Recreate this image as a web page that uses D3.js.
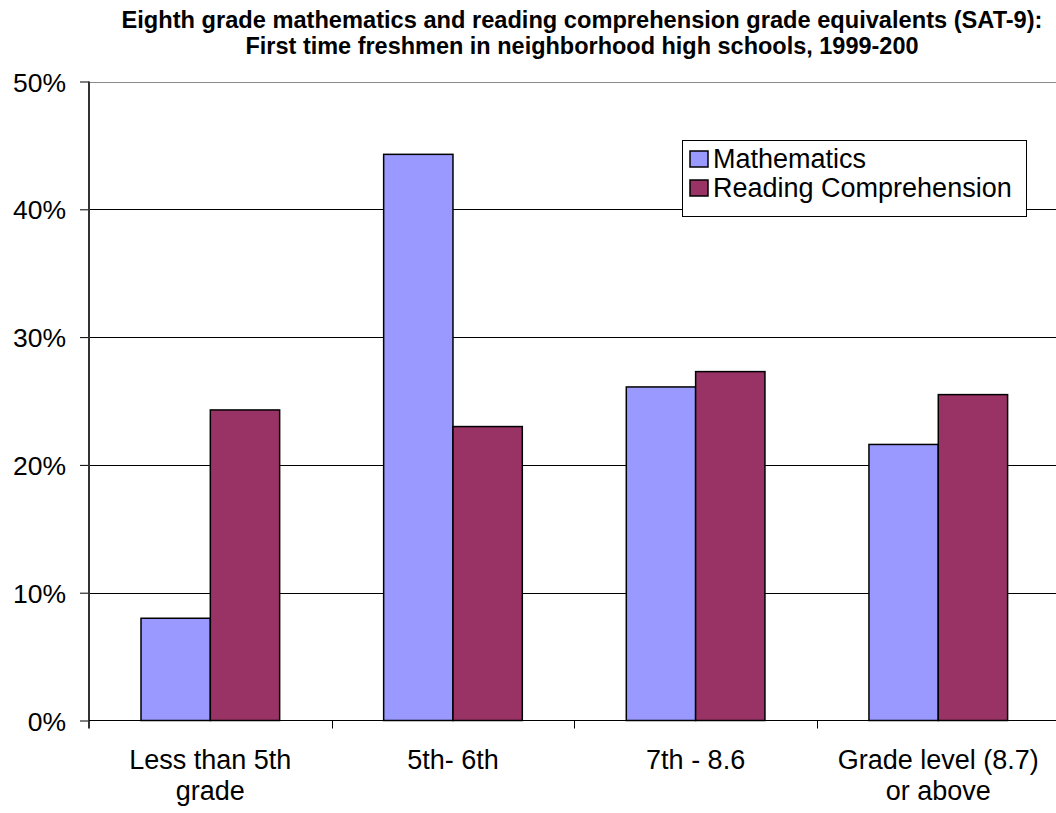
<!DOCTYPE html>
<html>
<head>
<meta charset="utf-8">
<script src="https://cdn.jsdelivr.net/npm/d3@7"></script>
<style>
  html, body { margin: 0; padding: 0; background: #fff; }
  svg { display: block; font-family: "Liberation Sans", Arial, sans-serif; }
</style>
</head>
<body>
<svg id="chart" width="1056" height="813"></svg>
<script>
const titleLines = [
  "Eighth grade mathematics and reading comprehension grade equivalents (SAT-9):",
  "First time freshmen in neighborhood high schools, 1999-200"
];
const categories = ["Less than 5th grade", "5th- 6th", "7th - 8.6", "Grade level (8.7) or above"];
const categoryLines = [["Less than 5th", "grade"], ["5th- 6th"], ["7th - 8.6"], ["Grade level (8.7)", "or above"]];
const seriesNames = ["Mathematics", "Reading Comprehension"];
const mathematics = [8.0, 44.3, 26.1, 21.6];
const reading = [24.3, 23.0, 27.3, 25.5];
const yTicks = [0, 10, 20, 30, 40, 50];
const colors = ["#9999FF", "#993366"];

const svg = d3.select("#chart");
const margin = {left: 89, right: 1059.6, top: 81.5, bottom: 720.5};

const x0 = d3.scaleBand().domain(categories).range([margin.left, margin.right]).paddingInner(0).paddingOuter(0);
const x1 = d3.scaleBand().domain(seriesNames).range([0, x0.bandwidth()]).paddingInner(0).paddingOuter(0.75);
const y = d3.scaleLinear().domain([0, 50]).range([margin.bottom, margin.top]);
const color = d3.scaleOrdinal().domain(seriesNames).range(colors);

// Title
const titleWidths = [921, 673];
titleLines.forEach((t, i) => {
  svg.append("text")
    .attr("x", 582).attr("y", 28 + i * 26).attr("text-anchor", "middle")
    .attr("font-weight", "bold").attr("font-size", 23).attr("fill", "#000")
    .attr("textLength", titleWidths[i]).attr("lengthAdjust", "spacingAndGlyphs")
    .text(t);
});

// Gridlines
svg.append("g").selectAll("line").data(yTicks.filter(d => d > 0)).join("line")
  .attr("x1", margin.left).attr("x2", 1056)
  .attr("y1", d => Math.round(y(d)) + 0.5).attr("y2", d => Math.round(y(d)) + 0.5)
  .attr("stroke", d => d === 50 ? "#8c8c8c" : "#000").attr("stroke-width", 1);

// Bars
const data = categories.map((c, i) => ({cat: c, vals: [
  {name: seriesNames[0], v: mathematics[i]},
  {name: seriesNames[1], v: reading[i]}
]}));
svg.append("g").selectAll("g").data(data).join("g")
  .attr("transform", d => `translate(${x0(d.cat)},0)`)
  .selectAll("rect").data(d => d.vals).join("rect")
  .attr("x", d => x1(d.name))
  .attr("width", x1.bandwidth())
  .attr("y", d => y(d.v))
  .attr("height", d => y(0) - y(d.v))
  .attr("fill", d => color(d.name))
  .attr("stroke", "#000").attr("stroke-width", 1.5);

// Y axis
const yAxis = svg.append("g").attr("transform", `translate(${margin.left},0)`)
  .call(d3.axisLeft(y).tickValues(yTicks).tickFormat(d => d + "%").tickSize(9).tickPadding(14).tickSizeOuter(0));
yAxis.select(".domain").remove();
yAxis.selectAll(".tick line").attr("stroke", "#000");
yAxis.selectAll("text").attr("font-size", 26.5).attr("fill", "#000")
  .attr("font-family", "Liberation Sans, Arial, sans-serif").attr("dy", "0.36em");
svg.append("line").attr("x1", margin.left).attr("x2", margin.left)
  .attr("y1", margin.top).attr("y2", margin.bottom + 8)
  .attr("stroke", "#333").attr("stroke-width", 2);

// X axis baseline and ticks
svg.append("line").attr("x1", margin.left).attr("x2", 1056)
  .attr("y1", y(0)).attr("y2", y(0)).attr("stroke", "#000").attr("stroke-width", 1.2);
const boundaries = categories.map(c => x0(c)).concat([x0(categories[categories.length - 1]) + x0.bandwidth()]);
svg.append("g").selectAll("line").data(boundaries.slice(1)).join("line")
  .attr("x1", d => Math.round(d) + 0.5).attr("x2", d => Math.round(d) + 0.5)
  .attr("y1", y(0)).attr("y2", y(0) + 8).attr("stroke", "#000");

// X labels
const xl = svg.append("g").selectAll("text").data(categories).join("text")
  .attr("text-anchor", "middle").attr("font-size", 27).attr("fill", "#000");
xl.each(function(c, i) {
  const cx = x0(c) + x0.bandwidth() / 2;
  categoryLines[i].forEach((line, j) => {
    d3.select(this).append("tspan").attr("x", cx).attr("y", 769 + j * 31).text(line);
  });
});

// Legend
const lg = svg.append("g");
lg.append("rect").attr("x", 682.5).attr("y", 140.5).attr("width", 344).attr("height", 76)
  .attr("fill", "#fff").attr("stroke", "#000").attr("stroke-width", 1);
seriesNames.forEach((s, i) => {
  lg.append("rect").attr("x", 690).attr("y", 151 + i * 29).attr("width", 18).attr("height", 16)
    .attr("fill", color(s)).attr("stroke", "#000").attr("stroke-width", 1.5);
  lg.append("text").attr("x", 713).attr("y", 168 + i * 29).attr("font-size", 27).attr("fill", "#000").text(s);
});
</script>
</body>
</html>
